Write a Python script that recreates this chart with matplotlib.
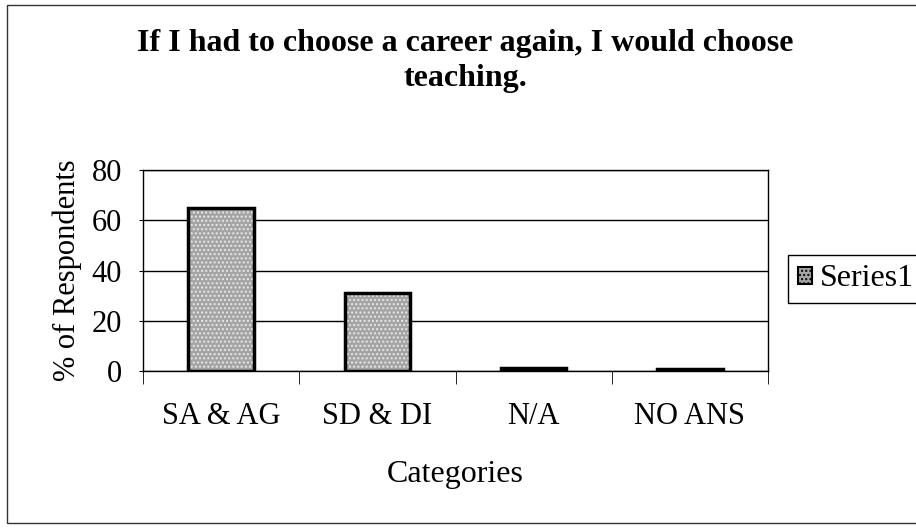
import matplotlib.pyplot as plt
from matplotlib.patches import Rectangle, Patch

plt.rcParams['font.family'] = ['Liberation Serif', 'DejaVu Serif']

# data
categories = ['SA & AG', 'SD & DI', 'N/A', 'NO ANS']
series1 = [65, 31, 1.3, 0.6]
yticks = [0, 20, 40, 60, 80]

fig = plt.figure(figsize=(9.16, 5.29), dpi=100)
ax = fig.add_axes([143 / 916, 1 - 371 / 529, 625 / 916, 201 / 529])

x = range(len(categories))
# stippled grey fill, then a heavy black outline on top
ax.bar(x, series1, width=0.42, color='#a4a4a4', edgecolor='#e8e8e8',
       hatch='....', linewidth=0, zorder=3)
ax.bar(x, series1, width=0.42, fill=False, edgecolor='black',
       linewidth=2.5, zorder=4)

ax.set_xlim(-0.5, len(categories) - 0.5)
ax.set_ylim(0, 80)
ax.set_yticks(yticks)
ax.tick_params(axis='y', labelsize=22, length=3, direction='out', pad=12)
ax.set_xticks(list(x))
ax.set_xticklabels(categories)
ax.tick_params(axis='x', which='major', labelsize=22, length=0, pad=22)
ax.set_xticks([i - 0.5 for i in range(len(categories) + 1)], minor=True)
ax.tick_params(axis='x', which='minor', length=9, direction='out')

ax.grid(axis='y', color='black', linewidth=1)
ax.set_axisbelow(True)
for s in ax.spines.values():
    s.set_linewidth(1)
    s.set_color('black')

ax.set_xlabel('Categories', fontsize=23, labelpad=21)
ax.set_ylabel('% of Respondents', fontsize=22, labelpad=7)

fig.text(0.508, 1 - 61 / 529, 'If I had to choose a career again, I would choose\nteaching.',
         ha='center', va='center', fontsize=23, fontweight='bold', linespacing=1.25)

handle = Patch(facecolor='#a4a4a4', edgecolor='black', hatch='....', linewidth=1.5)
leg = ax.legend([handle], ['Series1'], loc='center left',
                bbox_to_anchor=(788 / 916, 1 - 279 / 529), bbox_transform=fig.transFigure,
                fontsize=23, fancybox=False, framealpha=1, edgecolor='black',
                handlelength=0.45, handleheight=0.45, handletextpad=0.25,
                borderpad=0.3, borderaxespad=0)
leg.get_frame().set_linewidth(1)

# outer chart frame (right side runs off the scan)
fig.patches.append(Rectangle((0.008, 0.012), 1.0, 0.978, transform=fig.transFigure,
                             fill=False, edgecolor='#333333', linewidth=1))

plt.savefig('out.png', dpi=100)
